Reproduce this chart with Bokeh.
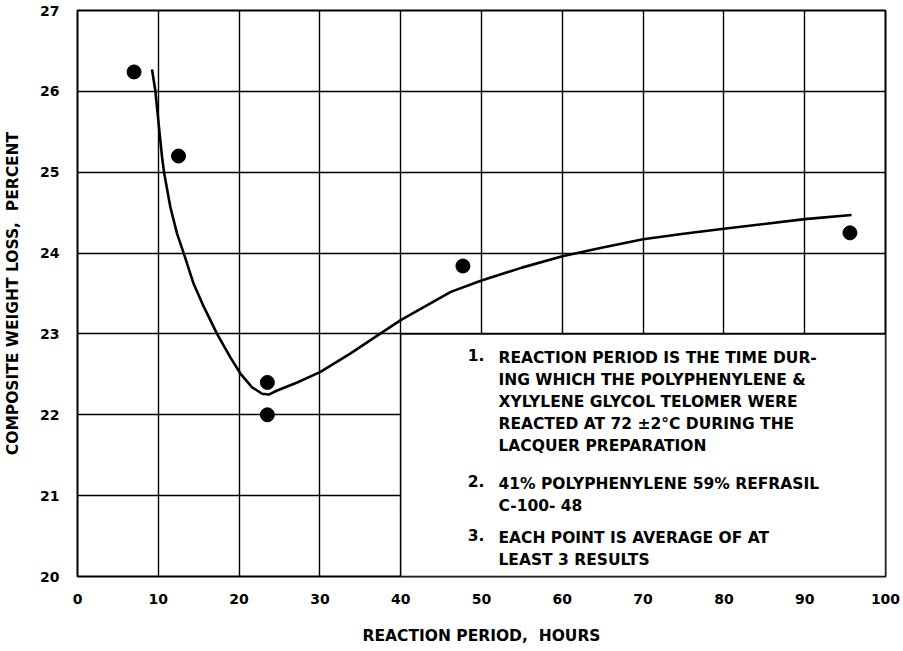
from bokeh.plotting import figure
from bokeh.models import Range1d, FixedTicker
from bokeh.core.properties import value
from bokeh.embed import file_html
from bokeh.resources import INLINE

# data
point_x = [7.0, 12.5, 23.5, 23.5, 47.7, 95.6]
point_y = [26.24, 25.2, 22.4, 22.0, 23.84, 24.25]

curve_x = [9.22, 9.63, 10.04, 10.46, 10.74, 11.49, 12.32, 13.14, 14.37, 15.61, 17.27,
           18.92, 20.16, 21.61, 22.85, 23.67, 24.71, 27.19, 30.07, 33.8, 37.1, 40.0,
           46.2, 50.0, 55.0, 60.0, 65.0, 70.0, 75.0, 80.0, 85.0, 90.0, 95.8]
curve_y = [26.27, 26.01, 25.60, 25.19, 24.98, 24.57, 24.24, 24.00, 23.62, 23.34, 23.00,
           22.71, 22.51, 22.34, 22.26, 22.25, 22.30, 22.40, 22.53, 22.76, 22.98, 23.17,
           23.52, 23.66, 23.82, 23.96, 24.07, 24.17, 24.24, 24.30, 24.36, 24.42, 24.47]

x_ticks = [0, 10, 20, 30, 40, 50, 60, 70, 80, 90, 100]
y_ticks = [20, 21, 22, 23, 24, 25, 26, 27]

notes = [
    ("1.", ["REACTION PERIOD IS THE TIME DUR-",
            "ING WHICH THE POLYPHENYLENE &",
            "XYLYLENE GLYCOL TELOMER WERE",
            "REACTED AT 72 \u00b12\u00b0C DURING THE",
            "LACQUER PREPARATION"]),
    ("2.", ["41% POLYPHENYLENE 59% REFRASIL",
            "C-100- 48"]),
    ("3.", ["EACH POINT IS AVERAGE OF AT",
            "LEAST 3 RESULTS"]),
]

x_label = "REACTION PERIOD,\u00a0 HOURS"
y_label = "COMPOSITE WEIGHT LOSS,\u00a0 PERCENT"

# layout constants
box_left, box_right, box_bottom, box_top = 40, 100, 20, 23
note_tops = [22.81, 21.25, 20.59]
num_x, text_x = 48.3, 52.1
line_step = 0.272

FONT = "DejaVu Sans"

p = figure(width=900, height=648, output_backend="svg", toolbar_location=None,
           x_range=Range1d(0, 100), y_range=Range1d(20, 27),
           min_border_left=77, min_border_right=15, min_border_top=10, min_border_bottom=72)

p.outline_line_color = "black"
p.outline_line_width = 2
p.outline_line_alpha = 1

for ax in (p.xaxis[0], p.yaxis[0]):
    ax.major_tick_line_color = None
    ax.minor_tick_line_color = None
    ax.axis_line_color = None
    ax.major_label_text_font = FONT
    ax.major_label_text_font_style = "bold"
    ax.major_label_text_font_size = "14px"
    ax.major_label_text_color = "black"
    ax.axis_label_text_font = FONT
    ax.axis_label_text_color = "black"
    ax.axis_label_text_font_style = "bold"

p.xaxis.axis_label_text_font_size = "15.5px"
p.yaxis.axis_label_text_font_size = "15.5px"

p.xaxis.ticker = FixedTicker(ticks=x_ticks)
p.yaxis.ticker = FixedTicker(ticks=y_ticks)
p.xaxis.major_label_standoff = 11
p.yaxis.major_label_standoff = 12
p.xaxis.axis_label = x_label
p.yaxis.axis_label = y_label
p.xaxis.axis_label_standoff = 20
p.yaxis.axis_label_standoff = 15

p.xgrid.ticker = FixedTicker(ticks=x_ticks)
p.ygrid.ticker = FixedTicker(ticks=y_ticks)
for g in (p.xgrid[0], p.ygrid[0]):
    g.grid_line_color = "black"
    g.grid_line_width = 1.4
    g.grid_line_alpha = 1

# blank note box covering grid
p.quad(left=[box_left], right=[box_right], bottom=[box_bottom], top=[box_top],
       fill_color="white", line_color="black", line_width=1.4)

p.line(curve_x, curve_y, line_color="black", line_width=2.6, line_join="round")
p.scatter(point_x, point_y, size=14, fill_color="black", line_color="black")

for (num, lines), top in zip(notes, note_tops):
    p.text(x=[num_x], y=[top], text=[num], text_font=value(FONT), text_font_size="15.5px",
           text_font_style="bold", text_baseline="top", text_color="black")
    ys = [top - i * line_step for i in range(len(lines))]
    p.text(x=[text_x] * len(lines), y=ys, text=lines, text_font=value(FONT),
           text_font_size="15.5px", text_font_style="bold", text_baseline="top",
           text_color="black")

open("out.html", "w").write(file_html(p, INLINE))
